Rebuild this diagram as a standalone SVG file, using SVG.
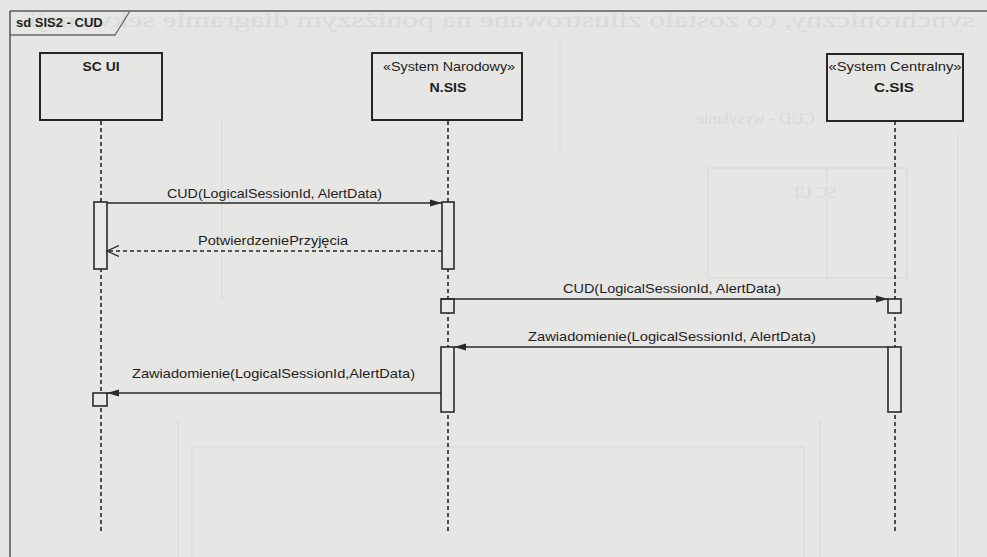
<svg xmlns="http://www.w3.org/2000/svg" width="987" height="557" viewBox="0 0 987 557">
  <style>
    .lbl { font-family: "Liberation Sans", Arial, sans-serif; font-size: 13px; fill: #1e1e1e; }
    .name { font-family: "Liberation Sans", Arial, sans-serif; font-size: 13px; font-weight: bold; fill: #1e1e1e; }
    .head { fill: none; stroke: #262626; stroke-width: 2; }
    .life { stroke: #262626; stroke-width: 1.6; stroke-dasharray: 4 3; }
    .act { fill: #e9e9e7; stroke: #2a2a2a; stroke-width: 1.6; }
    .msg { stroke: #2a2a2a; stroke-width: 1.6; fill: none; }
    .ret { stroke: #2a2a2a; stroke-width: 1.4; fill: none; stroke-dasharray: 4 3; }
    .ghost { fill: none; stroke: #dadad8; stroke-width: 1.2; }
    .ghosttxt { font-family: "Liberation Serif", "Times New Roman", serif; fill: #d9d9d7; }
  </style>
  <defs>
    <marker id="filled" markerUnits="userSpaceOnUse" markerWidth="14" markerHeight="10" refX="12" refY="5" orient="auto">
      <path d="M0,1.5 L12,5 L0,8.5 z" fill="#2a2a2a"/>
    </marker>
    <marker id="open" markerUnits="userSpaceOnUse" markerWidth="14" markerHeight="12" refX="12" refY="6" orient="auto">
      <path d="M0,0.5 L12,6 L0,11.5" fill="none" stroke="#2a2a2a" stroke-width="1.3"/>
    </marker>
  </defs>

  <!-- paper -->
  <rect x="0" y="0" width="987" height="557" fill="#e6e6e4"/>

  <!-- show-through from the reverse side of the sheet (mirrored) -->
  <g id="reverse-side">
    <g transform="translate(987,0) scale(-1,1)">
      <text class="ghosttxt" font-size="21" x="12" y="27" textLength="955" lengthAdjust="spacingAndGlyphs">synchroniczny, co zostało zilustrowane na poniższym diagramie sekwencji.</text>
      <text class="ghosttxt" font-size="17" x="172" y="124">CUD - wysyłanie</text>
      <text class="ghosttxt" font-size="17" x="150" y="198">SC UI</text>
    </g>
    <rect class="ghost" x="708" y="168" width="199" height="110"/>
    <line class="ghost" x1="827" y1="168" x2="827" y2="278"/>
    <rect class="ghost" x="192" y="447" width="612" height="120"/>
    <line class="ghost" x1="178" y1="420" x2="178" y2="557"/>
    <line class="ghost" x1="222" y1="120" x2="222" y2="300"/>
    <line class="ghost" x1="820" y1="420" x2="820" y2="557"/>
    <line class="ghost" x1="958" y1="130" x2="958" y2="557"/>
    <line class="ghost" x1="560" y1="40" x2="560" y2="150"/>
  </g>

  <!-- sequence diagram frame -->
  <g id="frame">
    <line x1="10" y1="11" x2="987" y2="11" stroke="#5a5a5a" stroke-width="1.6"/>
    <line x1="10" y1="11" x2="10" y2="557" stroke="#5a5a5a" stroke-width="1.6"/>
    <path d="M10,35 L115,35 L130,11" fill="none" stroke="#6a6a6a" stroke-width="1.3"/>
    <text class="name" x="16" y="27" font-size="12">sd SIS2 - CUD</text>
  </g>

  <!-- lifelines -->
  <g id="lifeline-scui">
    <rect class="head" x="40" y="53" width="122" height="67"/>
    <text class="name" x="101" y="71" text-anchor="middle" textLength="37" lengthAdjust="spacingAndGlyphs">SC UI</text>
    <line class="life" x1="101" y1="121" x2="101" y2="531"/>
  </g>
  <g id="lifeline-nsis">
    <rect class="head" x="372" y="53" width="150" height="67"/>
    <text class="lbl" x="449" y="71" text-anchor="middle" textLength="132" lengthAdjust="spacingAndGlyphs">«System Narodowy»</text>
    <text class="name" x="448" y="92" text-anchor="middle" textLength="37" lengthAdjust="spacingAndGlyphs">N.SIS</text>
    <line class="life" x1="448" y1="121" x2="448" y2="531"/>
  </g>
  <g id="lifeline-csis">
    <rect class="head" x="827" y="54" width="136" height="67"/>
    <text class="lbl" x="895" y="71" text-anchor="middle" textLength="133" lengthAdjust="spacingAndGlyphs">«System Centralny»</text>
    <text class="name" x="894" y="92" text-anchor="middle" textLength="40" lengthAdjust="spacingAndGlyphs">C.SIS</text>
    <line class="life" x1="895" y1="121" x2="895" y2="531"/>
  </g>

  <!-- activations -->
  <g id="activations">
    <rect class="act" x="94" y="202" width="13" height="67"/>
    <rect class="act" x="442" y="202" width="12" height="67"/>
    <rect class="act" x="441" y="299" width="13" height="14"/>
    <rect class="act" x="888" y="299" width="13" height="14"/>
    <rect class="act" x="441" y="347" width="13" height="65"/>
    <rect class="act" x="888" y="347" width="13" height="65"/>
    <rect class="act" x="93" y="393" width="14" height="13"/>
  </g>

  <!-- messages -->
  <g id="connectors">
    <line class="msg" x1="107" y1="203" x2="442" y2="203" marker-end="url(#filled)"/>
    <text class="lbl" x="274.5" y="198" text-anchor="middle" textLength="215" lengthAdjust="spacingAndGlyphs">CUD(LogicalSessionId, AlertData)</text>

    <line class="ret" x1="442" y1="251" x2="107" y2="251" marker-end="url(#open)"/>
    <text class="lbl" x="273" y="245" text-anchor="middle" textLength="150" lengthAdjust="spacingAndGlyphs">PotwierdzeniePrzyjęcia</text>

    <line class="msg" x1="441" y1="299" x2="888" y2="299" marker-end="url(#filled)"/>
    <text class="lbl" x="672" y="293" text-anchor="middle" textLength="218" lengthAdjust="spacingAndGlyphs">CUD(LogicalSessionId, AlertData)</text>

    <line class="msg" x1="888" y1="347" x2="454" y2="347" marker-end="url(#filled)"/>
    <text class="lbl" x="672" y="341" text-anchor="middle" textLength="288" lengthAdjust="spacingAndGlyphs">Zawiadomienie(LogicalSessionId, AlertData)</text>

    <line class="msg" x1="441" y1="393" x2="107" y2="393" marker-end="url(#filled)"/>
    <text class="lbl" x="273.5" y="378" text-anchor="middle" textLength="283" lengthAdjust="spacingAndGlyphs">Zawiadomienie(LogicalSessionId,AlertData)</text>
  </g>
</svg>
